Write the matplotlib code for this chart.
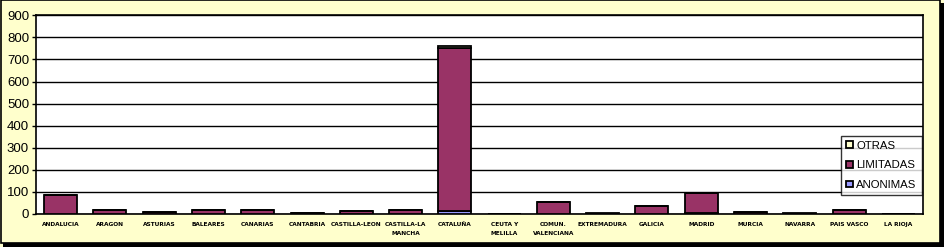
import matplotlib
matplotlib.use("Agg")
import matplotlib.pyplot as plt
import numpy as np
from matplotlib.patches import Rectangle

categories = ["ANDALUCIA", "ARAGON", "ASTURIAS", "BALEARES", "CANARIAS", "CANTABRIA",
              "CASTILLA-LEON", "CASTILLA-LA\nMANCHA", "CATALUÑA", "CEUTA Y\nMELILLA",
              "COMUN.\nVALENCIANA", "EXTREMADURA", "GALICIA", "MADRID", "MURCIA",
              "NAVARRA", "PAIS VASCO", "LA RIOJA"]
anonimas = [2, 1, 1, 1, 1, 0, 1, 1, 12, 0, 1, 0, 1, 4, 1, 0, 1, 0]
limitadas = [84, 16, 6, 15, 15, 3, 11, 15, 740, 0, 52, 2, 34, 91, 6, 2, 16, 1]
otras = [1, 1, 1, 1, 1, 1, 1, 1, 10, 0, 1, 1, 1, 1, 1, 1, 1, 1]

series_names = ["ANONIMAS", "LIMITADAS", "OTRAS"]
colors = ["#9999FF", "#993366", "#FFFFCC"]
bg = "#FFFFCC"

plt.rcParams['font.family'] = ['Liberation Sans', 'DejaVu Sans']
fig = plt.figure(figsize=(9.44, 2.47), dpi=100)
fig.patch.set_facecolor(bg)

# border with shadow
fig.patches.append(Rectangle((3/944, 0), 1 - 3/944, 1 - 3/247, transform=fig.transFigure,
                             facecolor="black", edgecolor="none", zorder=-2))
fig.patches.append(Rectangle((0.5/944, 4/247), 1 - 4.5/944, 1 - 4.5/247, transform=fig.transFigure,
                             facecolor=bg, edgecolor="black", linewidth=1.2, zorder=-1))

ax = fig.add_axes([36/944, 1 - 214/247, (923 - 36)/944, (214 - 15.3)/247])
ax.set_facecolor("white")
x = np.arange(len(categories))
bottom = np.zeros(len(categories))
handles = []
for name, vals, c in zip(series_names, [anonimas, limitadas, otras], colors):
    vals = np.array(vals, dtype=float)
    b = ax.bar(x, vals, width=0.67, bottom=bottom, color=c, edgecolor="black",
               linewidth=1.3, label=name, zorder=3)
    handles.append(b)
    bottom += vals

ax.set_xlim(-0.5, len(categories) - 0.5)
ax.set_ylim(0, 900)
ax.set_yticks(np.arange(0, 901, 100))
ax.yaxis.grid(True, color="black", linewidth=1.0, zorder=0)
ax.set_axisbelow(True)
ax.set_xticks(x)
ax.set_xticklabels(categories, fontsize=4.2, fontweight="bold", family="DejaVu Sans",
                   linespacing=2.0)
ax.tick_params(axis="x", length=0, pad=6)
ax.tick_params(axis="y", length=3, labelsize=9.5, pad=2, width=1)
for s in ax.spines.values():
    s.set_linewidth(1.2)
    s.set_color("black")

leg = ax.legend(handles[::-1], series_names[::-1], loc="lower right",
                bbox_to_anchor=(0.9985, 0.095), frameon=True, fancybox=False,
                fontsize=8.2, handlelength=0.55, handleheight=0.55, handletextpad=0.3,
                borderpad=0.45, labelspacing=0.85, borderaxespad=0)
leg.get_frame().set_edgecolor("black")
leg.get_frame().set_linewidth(1.0)
leg.get_frame().set_facecolor("white")
leg.set_zorder(5)

fig.savefig("out.png", dpi=100, facecolor=fig.get_facecolor())
